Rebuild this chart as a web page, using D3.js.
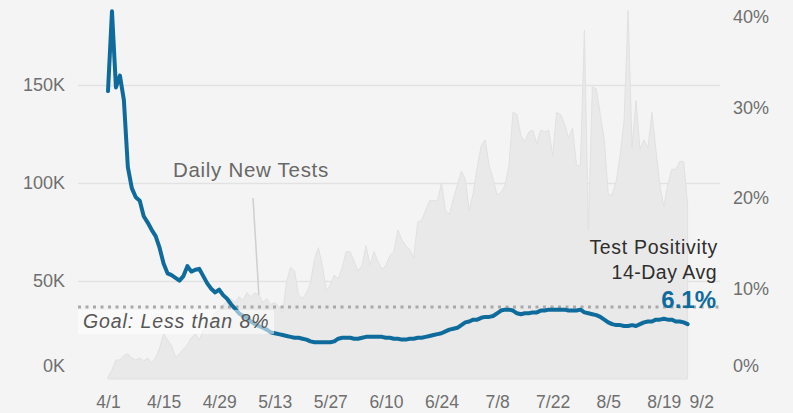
<!DOCTYPE html>
<html>
<head>
<meta charset="utf-8">
<script src="https://cdn.jsdelivr.net/npm/d3@7"></script>
<style>
  html, body { margin: 0; padding: 0; background: #f4f4f4; }
  svg { display: block; font-family: "Liberation Sans", Arial, sans-serif; }
</style>
</head>
<body>
<div class="vis"></div>
<script>

//********************//
//        DATA        //
//********************//

// first day of the series, one value per day after that
var startDate = "2020-04-01";

// daily new tests, in thousands
var testsK = [
	1, 4.6, 9.7, 9.7, 12, 12.8, 10.7, 9.7, 10.7, 9.2,
	10.7, 8.2, 10.7, 15.8, 23, 20, 17, 11.2, 12.8, 15.3,
	17.3, 21, 23, 20, 25, 26.5, 31, 34, 34.7, 37.8,
	40, 41, 39, 42, 40, 44, 42, 44, 43, 39,
	41, 38, 39, 37, 34, 50, 57, 55, 43, 41,
	44, 49, 61, 67, 58, 45, 48, 53, 51, 57,
	65, 65, 60, 55, 58, 68, 58, 65, 60, 56,
	58, 63, 65, 76, 71, 68, 66, 62, 80, 81,
	86, 91, 91, 91, 100, 86, 84, 92, 99, 106,
	102, 86, 95, 108, 119, 122, 109, 102, 94, 95,
	99, 109, 136, 135, 124, 121, 126, 127, 120, 127,
	126, 127, 114, 136, 135, 130, 123, 128, 109, 109,
	178, 76, 149, 148, 135, 122, 94, 94, 101, 114,
	132, 188, 118, 142, 117, 122, 118, 136, 117, 99,
	88, 99, 107, 107, 111, 111, 89
];

// test positivity, 14-day average, percent
var positivity = [
	31.8, 40.6, 32.2, 33.5, 30.8, 23.4, 21.1, 20.1, 19.7, 18.0,
	17.3, 16.5, 15.8, 14.5, 12.8, 11.7, 11.5, 11.2, 10.9, 11.4,
	12.5, 11.9, 12.1, 12.2, 11.4, 10.6, 10.0, 9.6, 9.9, 9.3,
	8.9, 8.3, 7.8, 7.3, 7.0, 6.8, 6.4, 6.1, 5.9, 5.7,
	5.5, 5.2, 5.1, 5.0, 4.9, 4.8, 4.7, 4.6, 4.6, 4.5,
	4.4, 4.2, 4.1, 4.1, 4.1, 4.1, 4.1, 4.2, 4.5, 4.6,
	4.6, 4.6, 4.5, 4.5, 4.6, 4.7, 4.7, 4.7, 4.7, 4.7,
	4.6, 4.6, 4.5, 4.5, 4.4, 4.4, 4.5, 4.5, 4.6, 4.6,
	4.7, 4.8, 4.9, 5.0, 5.1, 5.3, 5.5, 5.6, 5.7, 6.0,
	6.3, 6.4, 6.6, 6.6, 6.8, 6.9, 6.9, 7.0, 7.3, 7.6,
	7.7, 7.7, 7.6, 7.3, 7.2, 7.3, 7.3, 7.4, 7.4, 7.6,
	7.6, 7.7, 7.7, 7.7, 7.7, 7.7, 7.6, 7.6, 7.6, 7.7,
	7.4, 7.3, 7.2, 7.1, 6.9, 6.6, 6.3, 6.1, 6.0, 6.0,
	5.9, 5.9, 6.0, 5.9, 6.1, 6.3, 6.4, 6.4, 6.6, 6.6,
	6.7, 6.6, 6.6, 6.4, 6.4, 6.3, 6.1
];

// axis ticks
var xTickLabels = ["4/1", "4/15", "4/29", "5/13", "5/27", "6/10", "6/24", "7/8", "7/22", "8/5", "8/19", "9/2"];
var testTicks = [0, 50, 100, 150];
var pctTicks = [0, 10, 20, 30, 40];

var goalPct = 8;
var pointerDay = "5/9";


//********************//
//   SVG / SCALES     //
//********************//

var width = 793, height = 413;

var svg = d3.select(".vis").append("svg")
	.attr("width", width)
	.attr("height", height);

svg.append("rect")
	.attr("width", width)
	.attr("height", height)
	.attr("fill", "#f4f4f4");

var parseDay = d3.utcParse("%Y-%m-%d");
var day0 = parseDay(startDate);

var toDate = function(label) {
	var p = label.split("/");
	return new Date(Date.UTC(2020, +p[0] - 1, +p[1]));
}

var rows = testsK.map(function(v, i) {
	return { date: d3.utcDay.offset(day0, i), tests: v, pct: positivity[i] };
});

var paneLeft = 78, paneRight = 720;

var x = d3.scaleUtc()
	.domain([toDate("4/1"), toDate("9/2")])
	.range([108, 719.4]);

var yTests = d3.scaleLinear()
	.domain([0, 190])
	.range([379, 6.6]);

var yPct = d3.scaleLinear()
	.domain([0, 41])
	.range([379.5, 7.6]);


//********************//
//      GRIDLINES     //
//********************//

svg.append("g")
	.selectAll("line")
	.data(testTicks.filter(function(d) { return d > 0; }))
	.join("line")
	.attr("x1", paneLeft)
	.attr("x2", paneRight)
	.attr("y1", function(d) { return Math.round(yTests(d)) + 0.5; })
	.attr("y2", function(d) { return Math.round(yTests(d)) + 0.5; })
	.attr("stroke", "#e2e2e2")
	.attr("stroke-width", 1.5);


//********************//
//    TESTS (AREA)    //
//********************//

var area = d3.area()
	.x(function(d) { return x(d.date); })
	.y0(yTests(0))
	.y1(function(d) { return yTests(d.tests); });

svg.append("path")
	.datum(rows)
	.attr("d", area)
	.attr("fill", "#e9e9e9")
	.attr("stroke", "#e1e1e1")
	.attr("stroke-width", 1);

// goal line
svg.append("line")
	.attr("x1", paneLeft)
	.attr("x2", paneRight)
	.attr("y1", yPct(goalPct))
	.attr("y2", yPct(goalPct))
	.attr("stroke", "#a9a9a9")
	.attr("stroke-width", 3)
	.attr("stroke-dasharray", "3,4.5");


//********************//
//  POSITIVITY LINE   //
//********************//

var line = d3.line()
	.x(function(d) { return x(d.date); })
	.y(function(d) { return yPct(d.pct); });

svg.append("path")
	.datum(rows)
	.attr("d", line)
	.attr("fill", "none")
	.attr("stroke", "#0f6b9c")
	.attr("stroke-width", 4)
	.attr("stroke-linejoin", "round")
	.attr("stroke-linecap", "round");


//********************//
//    ANNOTATIONS     //
//********************//

// goal label with a pale box behind it
var goalY = yPct(goalPct);
svg.append("rect")
	.attr("x", paneLeft)
	.attr("y", goalY + 3)
	.attr("width", 196)
	.attr("height", 24)
	.attr("fill", "#ffffff")
	.attr("opacity", 0.55);

svg.append("text")
	.attr("x", 83)
	.attr("y", goalY + 21)
	.attr("font-size", 19.5)
	.attr("font-style", "italic")
	.attr("letter-spacing", 0.9)
	.attr("fill", "#575757")
	.text("Goal: Less than 8%");

// daily new tests label + pointer
var pointer = rows.find(function(d) { return +d.date === +toDate(pointerDay); });
svg.append("line")
	.attr("x1", 253)
	.attr("y1", 198)
	.attr("x2", x(pointer.date))
	.attr("y2", yTests(pointer.tests))
	.attr("stroke", "#cfcfcf")
	.attr("stroke-width", 1.5);

svg.append("text")
	.attr("x", 173)
	.attr("y", 177)
	.attr("font-size", 20.5)
	.attr("letter-spacing", 0.7)
	.attr("fill", "#686868")
	.text("Daily New Tests");

// positivity label
var last = rows[rows.length - 1];
var labelG = svg.append("g")
	.attr("text-anchor", "end");

labelG.append("text")
	.attr("x", 718)
	.attr("y", 254)
	.attr("font-size", 19.5)
	.attr("letter-spacing", 0.7)
	.attr("fill", "#2e2e2e")
	.text("Test Positivity");

labelG.append("text")
	.attr("x", 717)
	.attr("y", 279)
	.attr("font-size", 19.5)
	.attr("letter-spacing", 0.5)
	.attr("fill", "#2e2e2e")
	.text("14-Day Avg");

labelG.append("text")
	.attr("x", 716)
	.attr("y", 308)
	.attr("font-size", 24)
	.attr("font-weight", "bold")
	.attr("fill", "#0f6b9c")
	.text(last.pct.toFixed(1) + "%");


//********************//
//        AXES        //
//********************//

var leftAxis = svg.append("g")
	.attr("transform", "translate(68,0)")
	.call(d3.axisLeft(yTests)
		.tickValues(testTicks)
		.tickSize(0)
		.tickPadding(3)
		.tickFormat(function(d) { return d + "K"; }));

var rightAxis = svg.append("g")
	.attr("transform", "translate(730,0)")
	.call(d3.axisRight(yPct)
		.tickValues(pctTicks)
		.tickSize(0)
		.tickPadding(3)
		.tickFormat(function(d) { return d + "%"; }));

var bottomAxis = svg.append("g")
	.attr("transform", "translate(0,396)")
	.call(d3.axisBottom(x)
		.tickValues(xTickLabels.map(toDate))
		.tickSize(0)
		.tickPadding(0)
		.tickFormat(function(d, i) { return xTickLabels[i]; }));

[leftAxis, rightAxis, bottomAxis].forEach(function(g) {
	g.select(".domain").remove();
	g.selectAll("text")
		.attr("font-family", "'Liberation Sans', Arial, sans-serif")
		.attr("font-size", 18)
		.attr("fill", "#6f6f6f");
});

bottomAxis.selectAll("text").attr("font-size", 17.5);

// the zero labels sit a little above the baseline
leftAxis.selectAll(".tick")
	.filter(function(d) { return d === 0; })
	.select("text").attr("y", -13);
rightAxis.selectAll(".tick")
	.filter(function(d) { return d === 0; })
	.select("text").attr("y", -14);

// last date label is pulled inside the pane
bottomAxis.selectAll(".tick")
	.filter(function(d, i) { return i === xTickLabels.length - 1; })
	.select("text")
	.attr("text-anchor", "end")
	.attr("x", -6);

</script>
</body>
</html>
